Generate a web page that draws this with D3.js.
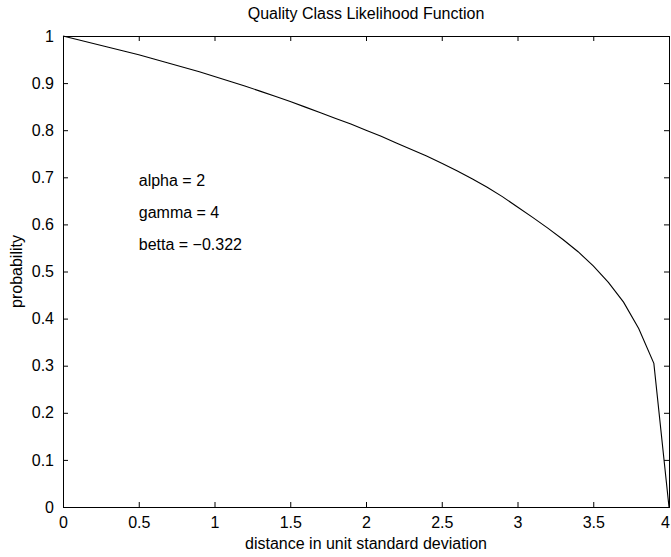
<!DOCTYPE html>
<html>
<head>
<meta charset="utf-8">
<script src="https://cdn.jsdelivr.net/npm/d3@7/dist/d3.min.js"></script>
<style>
  html, body { margin: 0; padding: 0; background: #fff; }
  svg { display: block; }
  text { font-family: "Liberation Sans", Arial, Helvetica, sans-serif; fill: #000; }
</style>
</head>
<body>
<svg id="chart" width="671" height="557"></svg>
<script>
// Likelihood curve, sampled every 0.1 unit standard deviation
const distance = [
  0.0, 0.1, 0.2, 0.3, 0.4, 0.5, 0.6, 0.7, 0.8, 0.9,
  1.0, 1.1, 1.2, 1.3, 1.4, 1.5, 1.6, 1.7, 1.8, 1.9,
  2.0, 2.1, 2.2, 2.3, 2.4, 2.5, 2.6, 2.7, 2.8, 2.9,
  3.0, 3.1, 3.2, 3.3, 3.4, 3.5, 3.6, 3.7, 3.8, 3.9, 4.0
];
const probability = [
  1.000, 0.992, 0.984, 0.976, 0.968, 0.960, 0.951, 0.942, 0.933, 0.924,
  0.914, 0.904, 0.894, 0.883, 0.872, 0.861, 0.849, 0.837, 0.825, 0.813,
  0.800, 0.787, 0.773, 0.759, 0.745, 0.730, 0.714, 0.697, 0.679, 0.659,
  0.637, 0.615, 0.592, 0.568, 0.542, 0.512, 0.477, 0.435, 0.379, 0.305, 0.000
];

const xTicks = [0, 0.5, 1, 1.5, 2, 2.5, 3, 3.5, 4];
const yTicks = [0, 0.1, 0.2, 0.3, 0.4, 0.5, 0.6, 0.7, 0.8, 0.9, 1];

const titleText = "Quality Class Likelihood Function";
const xLabelText = "distance in unit standard deviation";
const yLabelText = "probability";
const paramLines = ["alpha = 2", "gamma = 4", "betta = \u22120.322"];

const width = 671, height = 557;
const svg = d3.select("#chart");
const plot = { left: 63, right: 669, top: 36, bottom: 507 };

const x = d3.scaleLinear().domain([0, 4]).range([plot.left, plot.right]);
const y = d3.scaleLinear().domain([0, 1]).range([plot.bottom, plot.top]);

const fmt = d => String(d);
const tickLen = 5;

// bottom axis (inward ticks) with labels
const bottom = svg.append("g")
  .attr("transform", `translate(0,${plot.bottom})`)
  .call(d3.axisBottom(x).tickValues(xTicks).tickFormat(fmt).tickSizeInner(-tickLen).tickSizeOuter(0).tickPadding(10))
  .call(g => g.select(".domain").remove())
  .call(g => g.selectAll("text").attr("font-size", 16).attr("font-family", null));

// keep the last tick label inside the page
bottom.selectAll(".tick text").each(function () {
  const tick = this.parentNode;
  const tx = +tick.getAttribute("transform").match(/translate\(([-\d.]+)/)[1];
  const w = this.getComputedTextLength();
  const over = tx + w / 2 - (width - 1);
  if (over > 0) d3.select(this).attr("dx", -over);
});

// top axis: ticks only
svg.append("g")
  .attr("transform", `translate(0,${plot.top})`)
  .call(d3.axisTop(x).tickValues(xTicks).tickFormat("").tickSizeInner(-tickLen).tickSizeOuter(0))
  .call(g => g.select(".domain").remove());

// left axis with labels
svg.append("g")
  .attr("transform", `translate(${plot.left},0)`)
  .call(d3.axisLeft(y).tickValues(yTicks).tickFormat(fmt).tickSizeInner(-tickLen).tickSizeOuter(0).tickPadding(9))
  .call(g => g.select(".domain").remove())
  .call(g => g.selectAll("text").attr("font-size", 16).attr("font-family", null));

// right axis: ticks only
svg.append("g")
  .attr("transform", `translate(${plot.right},0)`)
  .call(d3.axisRight(y).tickValues(yTicks).tickFormat("").tickSizeInner(-tickLen).tickSizeOuter(0))
  .call(g => g.select(".domain").remove());

// frame
svg.append("rect")
  .attr("x", plot.left + 0.5).attr("y", plot.top + 0.5)
  .attr("width", plot.right - plot.left).attr("height", plot.bottom - plot.top)
  .attr("fill", "none").attr("stroke", "#000").attr("stroke-width", 1);

svg.selectAll(".tick line").attr("stroke", "#000");

// curve
const pts = distance.map((d, i) => [d, probability[i]]);
svg.append("path")
  .datum(pts)
  .attr("fill", "none")
  .attr("stroke", "#000")
  .attr("stroke-width", 1.1)
  .attr("d", d3.line().x(d => x(d[0])).y(d => y(d[1])));

// title and axis labels
svg.append("text")
  .attr("x", (plot.left + plot.right) / 2).attr("y", 19)
  .attr("text-anchor", "middle").attr("font-size", 16)
  .text(titleText);

svg.append("text")
  .attr("x", (plot.left + plot.right) / 2).attr("y", 549)
  .attr("text-anchor", "middle").attr("font-size", 16)
  .text(xLabelText);

svg.append("text")
  .attr("transform", `translate(22,${(plot.top + plot.bottom) / 2}) rotate(-90)`)
  .attr("text-anchor", "middle").attr("font-size", 16)
  .text(yLabelText);

// parameter annotations
svg.selectAll("text.param")
  .data(paramLines)
  .join("text")
  .attr("class", "param")
  .attr("x", x(0.5))
  .attr("y", (d, i) => y(0.7) + 9 + i * 32)
  .attr("font-size", 16)
  .text(d => d);
</script>
</body>
</html>
